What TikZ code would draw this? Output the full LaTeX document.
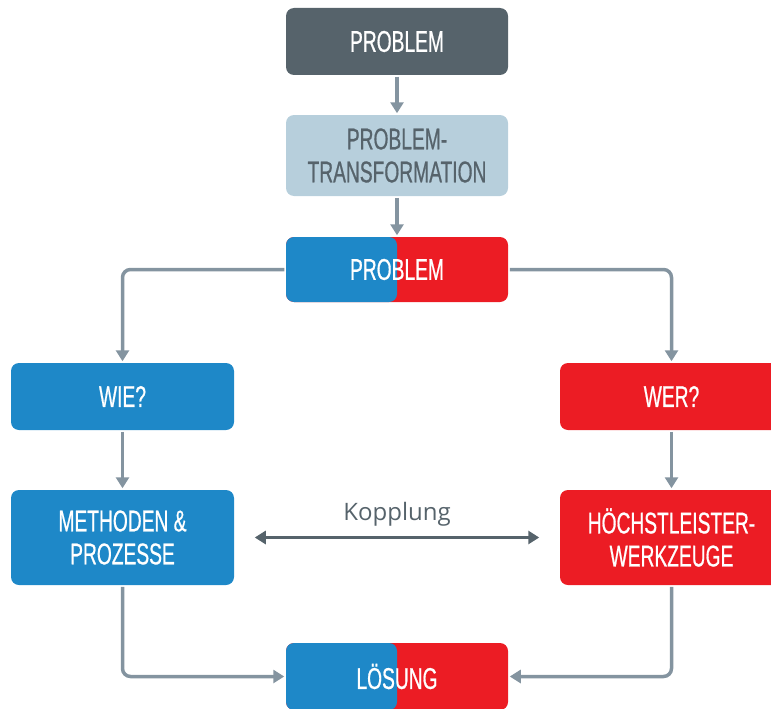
\documentclass[tikz,border=0pt]{standalone}
\usepackage{fontspec}
\usepackage{tikz}
\usetikzlibrary{arrows.meta,positioning}
\newfontfamily\boxfont[FakeStretch=0.64,FakeBold=0.6]{Liberation Sans}
\newfontfamily\labelfont{Open Sans}
\definecolor{darkgrey}{HTML}{56636B}
\definecolor{lightgrey}{HTML}{B7CFDC}
\definecolor{linegrey}{HTML}{8494A0}
\definecolor{wieblue}{HTML}{1E88C8}
\definecolor{werred}{HTML}{EC1C24}

\begin{document}
\begin{tikzpicture}[x=1pt,y=-1pt,>={Triangle[width=13pt,length=11pt]},
                    line width=3.5pt]
\tikzstyle{box}=[rounded corners=8pt,minimum width=222pt,minimum height=67pt,
                 align=center,text=white,inner sep=0pt,
                 font=\boxfont\fontsize{30}{33}\selectfont]
\tikzstyle{splitbox}=[box,fill=werred,path picture={
    \fill[wieblue] (path picture bounding box.south west) rectangle
                   (path picture bounding box.north);}]
\tikzstyle{conn}=[->,draw=linegrey,rounded corners=8pt]
\clip (0,0) rectangle (771,709);

\node [box,fill=darkgrey] (top) at (397,41.5) {PROBLEM};
\node [box,fill=lightgrey,text=darkgrey,minimum height=81pt] (trans) at (397,155.5)
      {PROBLEM-\\TRANSFORMATION};
\node [splitbox,minimum height=65pt] (prob) at (397,269.5) {PROBLEM};
\node [box,fill=wieblue,minimum width=223pt] (wie) at (122.5,396.5) {WIE?};
\node [box,fill=werred,minimum width=223pt] (wer) at (671.5,396.5) {WER?};
\node [box,fill=wieblue,minimum width=223pt,minimum height=95pt] (meth) at (122.5,537.5)
      {METHODEN \&\\PROZESSE};
\node [box,fill=werred,minimum width=223pt,minimum height=95pt] (werk) at (671.5,537.5)
      {HÖCHSTLEISTER-\\WERKZEUGE};
\node [splitbox] (loes) at (397,676.5) {LÖSUNG};

\draw [conn] (top) -- (trans);
\draw [conn] (trans) -- (prob);
\draw [conn] (prob.west) -| (wie);
\draw [conn] (prob.east) -| (wer);
\draw [conn] (wie) -- (meth);
\draw [conn] (wer) -- (werk);
\draw [conn] (meth) |- (loes);
\draw [conn] (werk) |- (loes);

% Kopplung
\draw [<->,draw=darkgrey,shorten <=19pt,shorten >=19pt] (meth.east) -- (werk.west)
      node [midway,above=6pt,font=\labelfont\fontsize{24}{26}\selectfont,text=darkgrey]
      {Kopplung};
\end{tikzpicture}
\end{document}
